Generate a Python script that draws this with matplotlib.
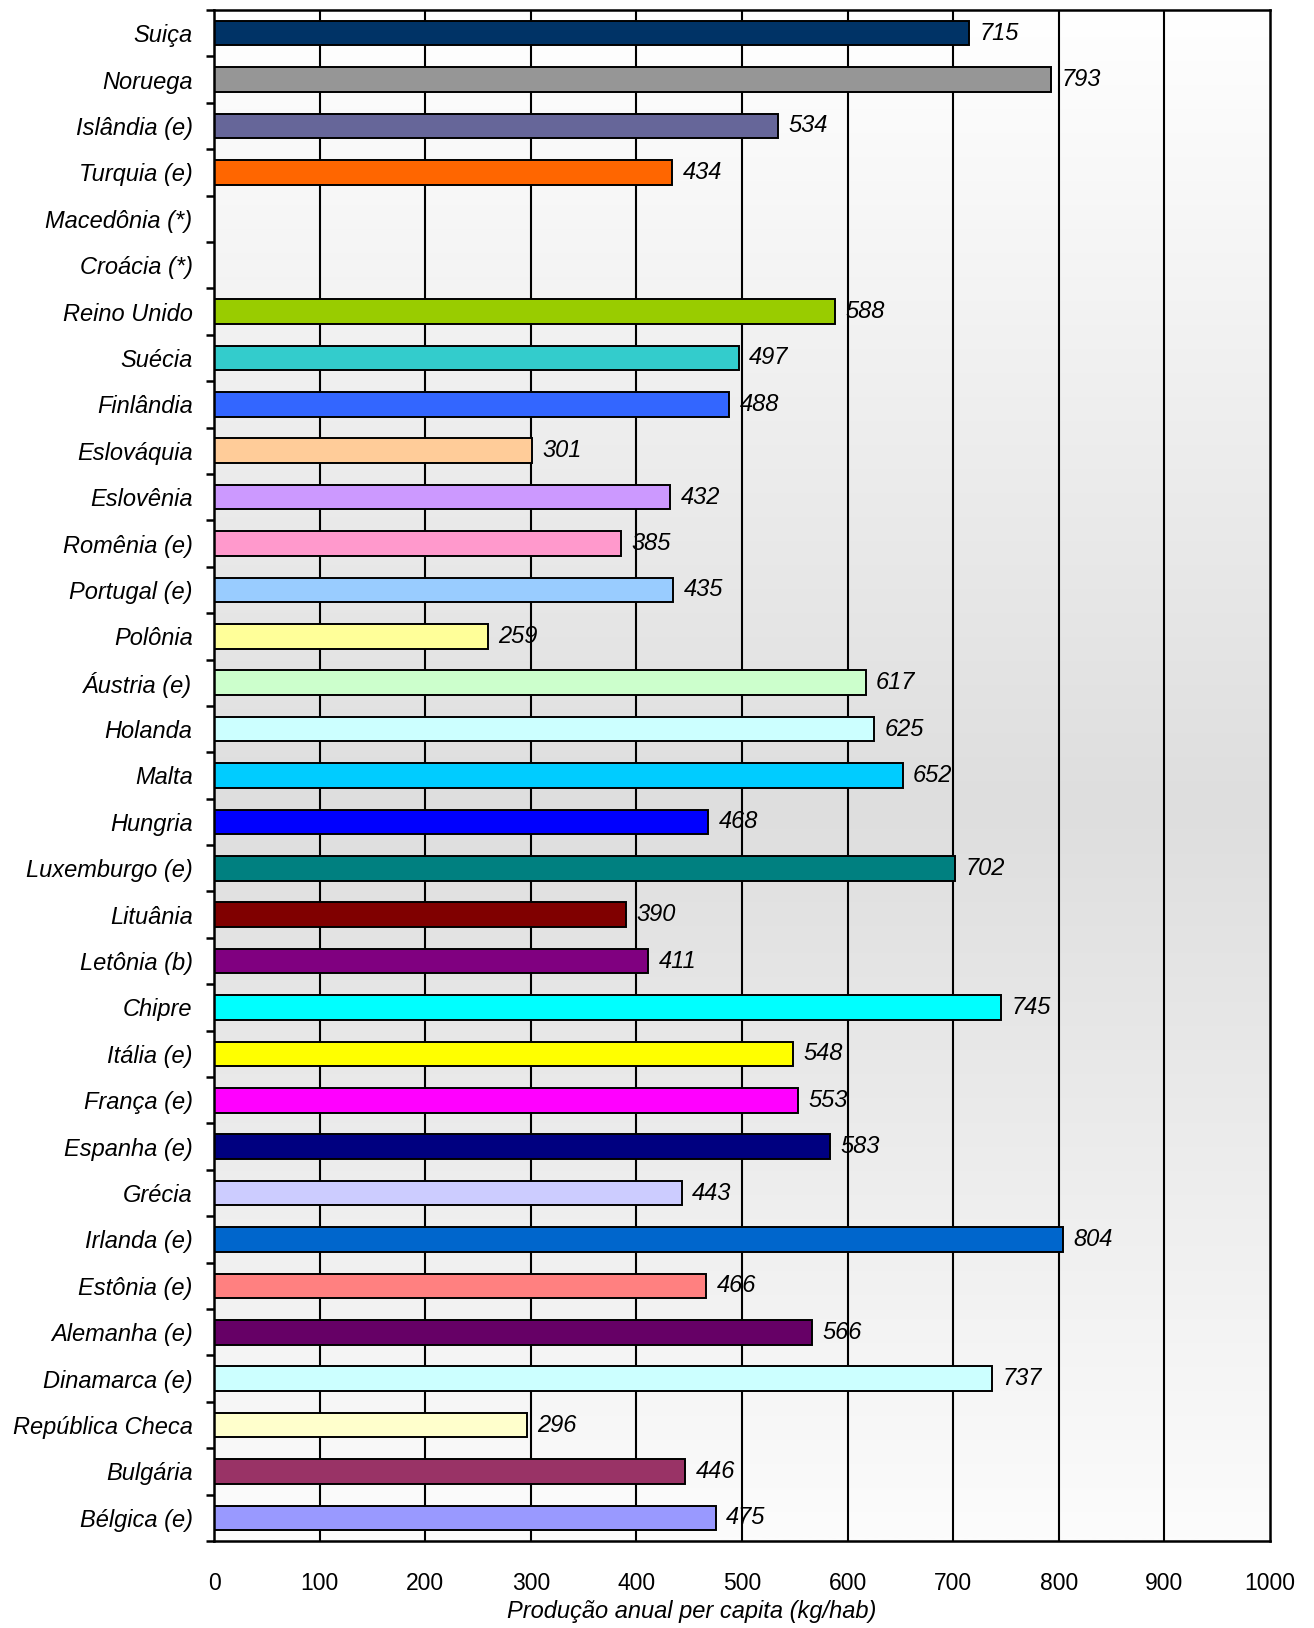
import numpy as np
import matplotlib
matplotlib.use("Agg")
import matplotlib.pyplot as plt
from matplotlib.colors import LinearSegmentedColormap

plt.rcParams['font.family'] = ['Liberation Sans', 'DejaVu Sans']

# Annual per-capita production (kg/hab); None = no data
countries = [
    "Suiça", "Noruega", "Islândia (e)", "Turquia (e)", "Macedônia (*)",
    "Croácia (*)", "Reino Unido", "Suécia", "Finlândia", "Eslováquia",
    "Eslovênia", "Romênia (e)", "Portugal (e)", "Polônia", "Áustria (e)",
    "Holanda", "Malta", "Hungria", "Luxemburgo (e)", "Lituânia",
    "Letônia (b)", "Chipre", "Itália (e)", "França (e)", "Espanha (e)",
    "Grécia", "Irlanda (e)", "Estônia (e)", "Alemanha (e)", "Dinamarca (e)",
    "República Checa", "Bulgária", "Bélgica (e)",
]
values = [
    715, 793, 534, 434, None,
    None, 588, 497, 488, 301,
    432, 385, 435, 259, 617,
    625, 652, 468, 702, 390,
    411, 745, 548, 553, 583,
    443, 804, 466, 566, 737,
    296, 446, 475,
]
colors = [
    "#003366", "#969696", "#666699", "#FF6600", "#FFFFFF",
    "#FFFFFF", "#99CC00", "#33CCCC", "#3366FF", "#FFCC99",
    "#CC99FF", "#FF99CC", "#99CCFF", "#FFFF99", "#CCFFCC",
    "#CCFFFF", "#00CCFF", "#0000FF", "#008080", "#800000",
    "#800080", "#00FFFF", "#FFFF00", "#FF00FF", "#000080",
    "#CCCCFF", "#0066CC", "#FF8080", "#660066", "#CCFFFF",
    "#FFFFCC", "#993366", "#9999FF",
]
x_ticks = [0, 100, 200, 300, 400, 500, 600, 700, 800, 900, 1000]
x_label = "Produção anual per capita (kg/hab)"

fig = plt.figure(figsize=(13.14, 16.28), dpi=100)
ax = fig.add_axes([0.1629, 0.0534, 0.8036, 0.9405])

n = len(countries)
ypos = np.arange(n)

# Plot-area fill: white at top, light grey in the middle, near-white at the bottom
grad_cmap = LinearSegmentedColormap.from_list(
    "fill", [(0.0, "#FCFCFC"), (0.48, "#DEDEDE"), (1.0, "#FFFFFF")])
grad = np.linspace(0, 1, 512).reshape(-1, 1)
ax.imshow(grad, cmap=grad_cmap, aspect="auto", origin="lower",
          extent=[0, 1, 0, 1], transform=ax.transAxes, zorder=0,
          interpolation="bilinear")

# Vertical grid lines
for xv in x_ticks[1:-1]:
    ax.axvline(xv, color="black", lw=1.5, zorder=1)

for i, (v, c) in enumerate(zip(values, colors)):
    if v is None:
        continue
    ax.barh(i, v, height=0.53, color=c, edgecolor="black", linewidth=1.4,
            zorder=2)
    ax.annotate(f"{v}", xy=(v, i), xytext=(7.5, 0), textcoords="offset points",
                ha="left", va="center", fontsize=17, style="italic", zorder=3)

ax.set_xlim(0, 1000)
ax.set_ylim(n - 0.5, -0.5)

ax.set_xticks(x_ticks)
ax.set_xticklabels([str(t) for t in x_ticks], fontsize=16.5)
ax.tick_params(axis="x", length=0, pad=22)

ax.set_yticks(ypos)
ax.set_yticklabels(countries, fontsize=17, style="italic")
ax.set_yticks(np.arange(-0.5, n, 1.0), minor=True)
ax.tick_params(axis="y", which="major", length=0, pad=15.5)
ax.tick_params(axis="y", which="minor", length=6, width=1.8, direction="out")

for s in ax.spines.values():
    s.set_linewidth(1.8)
    s.set_color("black")
    s.set_zorder(4)

ax.set_xlabel(x_label, fontsize=17, style="italic")
ax.xaxis.set_label_coords(0.452, -0.0457)
ax.xaxis.label.set_verticalalignment("center")

fig.savefig("out.png", dpi=100, facecolor="white")
